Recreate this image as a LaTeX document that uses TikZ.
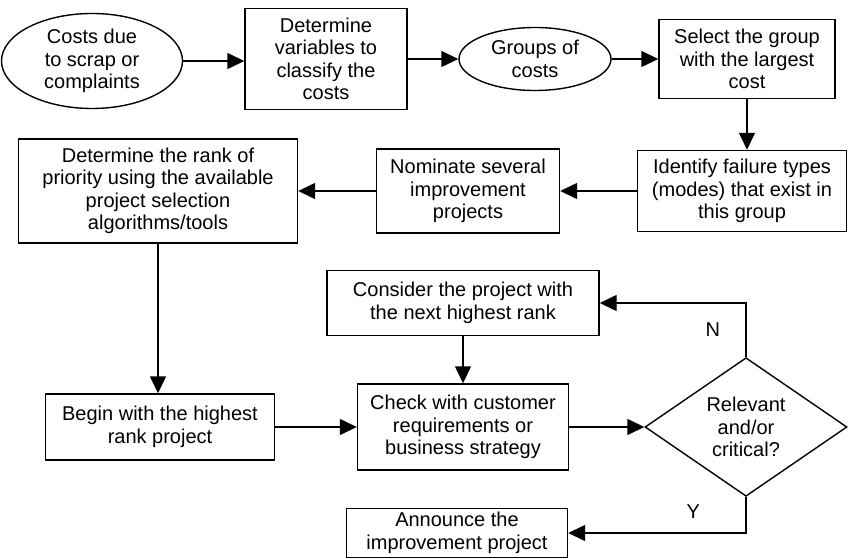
\documentclass[tikz,border=0pt]{standalone}
\usepackage{fontspec}
\setmainfont{Liberation Sans}
\usetikzlibrary{arrows.meta,positioning,shapes.geometric}
\tikzset{
  proc/.style={draw=black,line width=1.4pt,align=center,inner sep=1pt,
    minimum width=#1},
  proc/.default=180pt,
  term/.style={ellipse,draw=black,line width=1.4pt,align=center,inner sep=0pt},
  decide/.style={diamond,draw=black,line width=1.4pt,align=center,inner sep=0pt,
    minimum width=202pt,minimum height=131pt},
  arr/.style={-{Triangle[length=17pt,width=16pt]},line width=1.4pt},
}

\begin{document}
\begin{tikzpicture}[x=1pt,y=-1pt,font=\fontsize{20}{22.5}\selectfont]
  \useasboundingbox (0,0) rectangle (848,559);
  % top row
  \node[term,minimum width=181pt,minimum height=95pt] (cost) at (92,61)
    {Costs due\\to scrap or\\complaints};
  \node[proc=162pt,minimum height=101pt] (vars) at (326,59)
    {Determine\\variables to\\classify the\\costs};
  \node[term,minimum width=152pt,minimum height=63pt] (groups) at (535,59)
    {Groups of\\costs};
  \node[proc=176pt,minimum height=79pt] (select) at (747,59)
    {Select the group\\with the largest\\cost};
  % second row
  \node[proc=209pt,minimum height=81pt] (fail) at (742,191)
    {Identify failure types\\(modes) that exist in\\this group};
  \node[proc=183pt,minimum height=84pt] (nom) at (468,191)
    {Nominate several\\improvement\\projects};
  \node[proc=279pt,minimum height=104pt] (rank) at (158,191)
    {Determine the rank of\\priority using the available\\project selection\\algorithms/tools};
  % loop
  \node[proc=272pt,minimum height=65pt] (next) at (463,303)
    {Consider the project with\\the next highest rank};
  \node[proc=229pt,minimum height=66pt] (begin) at (160,427)
    {Begin with the highest\\rank project};
  \node[proc=211pt,minimum height=86pt] (check) at (463,427)
    {Check with customer\\requirements or\\business strategy};
  \node[decide] (crit) at (746,427) {Relevant\\and/or\\critical?};
  \node[proc=221pt,minimum height=49pt] (announce) at (457,533)
    {Announce the\\improvement project};

  \draw[arr] (cost.east) -- (cost.east -| vars.west);
  \draw[arr] (vars.east) -- (groups.west);
  \draw[arr] (groups.east) -- (select.west);
  \draw[arr] (select.south) -- (select.south |- fail.north);
  \draw[arr] (fail.west) -- (nom.east);
  \draw[arr] (nom.west) -- (rank.east);
  \draw[arr] (rank.south) -- (rank.south |- begin.north);
  \draw[arr] (begin.east) -- (check.west);
  \draw[arr] (next.south) -- (check.north);
  \draw[arr] (check.east) -- (crit.west);
  \draw[arr] (crit.north) |- (next.east) node[pos=0.25,left=22pt] {N};
  \draw[arr] (crit.south) |- (announce.east) node[pos=0.2,left=42pt] {Y};
\end{tikzpicture}
\end{document}
